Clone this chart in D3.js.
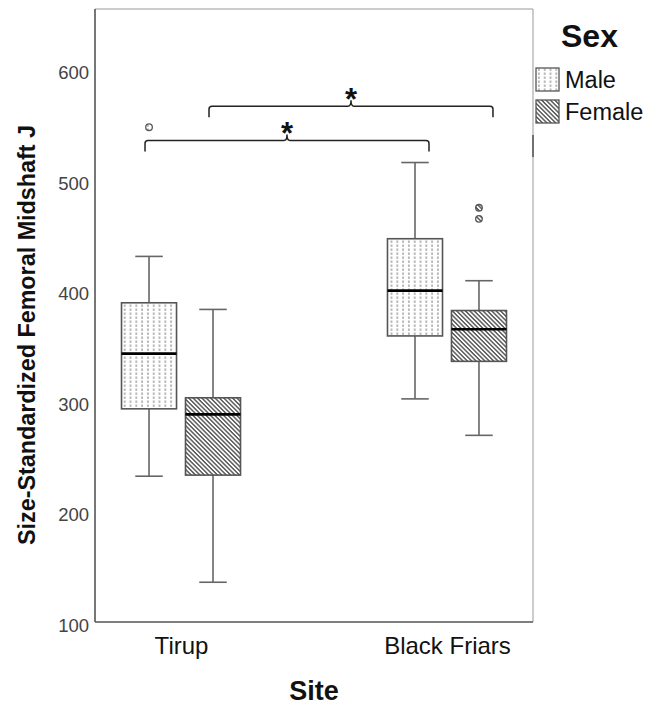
<!DOCTYPE html>
<html>
<head>
<meta charset="utf-8">
<script src="https://cdn.jsdelivr.net/npm/d3@7"></script>
<style>
  body { margin: 0; background: #fff; }
  svg { display: block; font-family: "Liberation Sans", Arial, sans-serif; }
</style>
</head>
<body>
<svg width="651" height="710"></svg>
<script>
// boxplot stats, order: Tirup M, Tirup F, Black Friars M, Black Friars F
var sites = ["Tirup", "Black Friars"];
var sexes = ["Male", "Female"];
var boxSite = ["Tirup", "Tirup", "Black Friars", "Black Friars"];
var boxSex = ["Male", "Female", "Male", "Female"];
var lowWhisker = [235, 139, 305, 272];
var q1 = [296, 236, 362, 339];
var medians = [346, 291, 403, 368];
var q3 = [392, 306, 450, 385];
var highWhisker = [434, 386, 519, 412];
var outliers = [[551], [], [], [478, 468]];

var yTicks = [100, 200, 300, 400, 500, 600];

// significance brackets
var bracketFrom = [["Tirup", "Male"], ["Tirup", "Female"]];
var bracketTo = [["Black Friars", "Male"], ["Black Friars", "Female"]];
var bracketLevel = [539, 570];
var bracketLabel = ["*", "*"];

var svg = d3.select("svg");
var pLeft = 95, pRight = 533, pTop = 9, pBottom = 622;

var x = d3.scalePoint().domain(sites).range([pLeft, pRight]).padding(0.3234);
var xSex = d3.scaleBand().domain(sexes).range([-59.5, 59.5]).paddingInner(0.14);
var y = d3.scaleLinear().domain([103, 658]).range([pBottom, pTop]);
var bw = xSex.bandwidth();

function cx(i) { return x(boxSite[i]) + xSex(boxSex[i]) + bw / 2; }

// patterns
var defs = svg.append("defs");
var dots = defs.append("pattern")
    .attr("id", "pat-Male")
    .attr("patternUnits", "userSpaceOnUse")
    .attr("width", 5.8).attr("height", 4);
dots.append("rect").attr("width", 5.8).attr("height", 4).attr("fill", "#fff");
dots.append("rect").attr("x", 2.4).attr("y", 0.5).attr("width", 1).attr("height", 2.4).attr("fill", "#777");

var hatch = defs.append("pattern")
    .attr("id", "pat-Female")
    .attr("patternUnits", "userSpaceOnUse")
    .attr("width", 3.1).attr("height", 10)
    .attr("patternTransform", "rotate(-45)");
hatch.append("rect").attr("width", 3.1).attr("height", 10).attr("fill", "#fff");
hatch.append("line").attr("x1", 0.8).attr("x2", 0.8).attr("y1", 0).attr("y2", 10)
    .attr("stroke", "#333").attr("stroke-width", 1.2);

// frame
svg.append("line").attr("x1", pLeft).attr("x2", pRight).attr("y1", pTop).attr("y2", pTop)
    .attr("stroke", "#999").attr("stroke-width", 1.2);
svg.append("line").attr("x1", pRight).attr("x2", pRight).attr("y1", pTop).attr("y2", pBottom)
    .attr("stroke", "#aaa").attr("stroke-width", 1.2);
svg.append("line").attr("x1", pRight).attr("x2", pRight).attr("y1", 135).attr("y2", 157)
    .attr("stroke", "#333").attr("stroke-width", 1.2);

// y axis (no tick marks)
var yAxis = svg.append("g")
    .attr("transform", "translate(" + pLeft + ",0)")
    .call(d3.axisLeft(y).tickValues(yTicks).tickSize(0).tickPadding(6));
yAxis.select(".domain").attr("stroke", "#555").attr("stroke-width", 1.6)
    .attr("d", "M0," + pTop + "V" + pBottom);
yAxis.selectAll("text").attr("font-size", 18.5).attr("fill", "#444")
    .attr("font-family", "Liberation Sans, Arial, sans-serif");

// x axis
var xAxis = svg.append("g")
    .attr("transform", "translate(0," + pBottom + ")")
    .call(d3.axisBottom(x).tickSize(0).tickPadding(15));
xAxis.select(".domain").attr("stroke", "#555").attr("stroke-width", 1.6)
    .attr("d", "M" + pLeft + ",0H" + pRight);
xAxis.selectAll("text").attr("font-size", 24).attr("fill", "#111")
    .attr("font-family", "Liberation Sans, Arial, sans-serif");

// axis titles
svg.append("text")
    .attr("x", (pLeft + pRight) / 2).attr("y", 700)
    .attr("text-anchor", "middle")
    .attr("font-size", 27).attr("font-weight", "bold").attr("fill", "#111")
    .text("Site");

svg.append("text")
    .attr("transform", "translate(35,335) rotate(-90)")
    .attr("text-anchor", "middle")
    .attr("font-size", 23.5).attr("font-weight", "bold").attr("fill", "#111")
    .attr("textLength", 420).attr("lengthAdjust", "spacingAndGlyphs")
    .text("Size-Standardized Femoral Midshaft J");

// boxes
var idx = d3.range(boxSite.length);
var boxes = svg.append("g").selectAll("g")
    .data(idx)
    .enter().append("g");

boxes.append("line")
    .attr("x1", cx).attr("x2", cx)
    .attr("y1", function(i) { return y(lowWhisker[i]); })
    .attr("y2", function(i) { return y(highWhisker[i]); })
    .attr("stroke", "#666").attr("stroke-width", 1.6);

boxes.selectAll(".cap")
    .data(function(i) { return [[i, lowWhisker[i]], [i, highWhisker[i]]]; })
    .enter().append("line")
    .attr("x1", function(d) { return cx(d[0]) - bw / 4; })
    .attr("x2", function(d) { return cx(d[0]) + bw / 4; })
    .attr("y1", function(d) { return y(d[1]); })
    .attr("y2", function(d) { return y(d[1]); })
    .attr("stroke", "#666").attr("stroke-width", 1.6);

boxes.append("rect")
    .attr("x", function(i) { return cx(i) - bw / 2; })
    .attr("width", bw)
    .attr("y", function(i) { return y(q3[i]); })
    .attr("height", function(i) { return y(q1[i]) - y(q3[i]); })
    .attr("fill", function(i) { return "url(#pat-" + boxSex[i] + ")"; })
    .attr("stroke", "#555").attr("stroke-width", 1.6);

boxes.append("line")
    .attr("x1", function(i) { return cx(i) - bw / 2; })
    .attr("x2", function(i) { return cx(i) + bw / 2; })
    .attr("y1", function(i) { return y(medians[i]); })
    .attr("y2", function(i) { return y(medians[i]); })
    .attr("stroke", "#000").attr("stroke-width", 2.6);

boxes.selectAll("circle")
    .data(function(i) { return outliers[i].map(function(v) { return [i, v]; }); })
    .enter().append("circle")
    .attr("cx", function(d) { return cx(d[0]); })
    .attr("cy", function(d) { return y(d[1]); })
    .attr("r", 3.3)
    .attr("fill", function(d) { return "url(#pat-" + boxSex[d[0]] + ")"; })
    .attr("stroke", "#555").attr("stroke-width", 1.3);

// brackets
function bx(pair) { return x(pair[0]) + xSex(pair[1]) + bw / 2; }
var br = svg.append("g").selectAll("g")
    .data(d3.range(bracketLevel.length))
    .enter().append("g");

br.append("path")
    .attr("d", function(i) {
      var x1 = bx(bracketFrom[i]) - 4, x2 = bx(bracketTo[i]) + 14;
      var ly = y(bracketLevel[i]), m = (x1 + x2) / 2;
      return "M" + x1 + "," + (ly + 11) +
        "V" + (ly + 3) + "Q" + x1 + "," + ly + " " + (x1 + 3) + "," + ly +
        "H" + (m - 3) + "Q" + m + "," + ly + " " + m + "," + (ly - 6) +
        "Q" + m + "," + ly + " " + (m + 3) + "," + ly +
        "H" + (x2 - 3) + "Q" + x2 + "," + ly + " " + x2 + "," + (ly + 3) +
        "V" + (ly + 11);
    })
    .attr("fill", "none").attr("stroke", "#222").attr("stroke-width", 1.5);

br.append("text")
    .attr("x", function(i) { return (bx(bracketFrom[i]) - 4 + bx(bracketTo[i]) + 14) / 2; })
    .attr("y", function(i) { return y(bracketLevel[i]) + 4; })
    .attr("text-anchor", "middle")
    .attr("font-size", 31).attr("font-weight", "bold").attr("fill", "#111")
    .text(function(i) { return bracketLabel[i]; });

// legend
var lg = svg.append("g");
lg.append("text").attr("x", 561).attr("y", 47)
    .attr("font-size", 32).attr("font-weight", "bold").attr("fill", "#111")
    .text("Sex");
var items = lg.selectAll(".item").data(sexes).enter().append("g")
    .attr("transform", function(d, i) { return "translate(536," + (68 + i * 32) + ")"; });
items.append("rect").attr("width", 23).attr("height", 23)
    .attr("fill", function(d) { return "url(#pat-" + d + ")"; })
    .attr("stroke", "#555").attr("stroke-width", 1.3);
items.append("text").attr("x", 29).attr("y", 20)
    .attr("font-size", 23.5).attr("fill", "#111")
    .text(function(d) { return d; });
</script>
</body>
</html>
